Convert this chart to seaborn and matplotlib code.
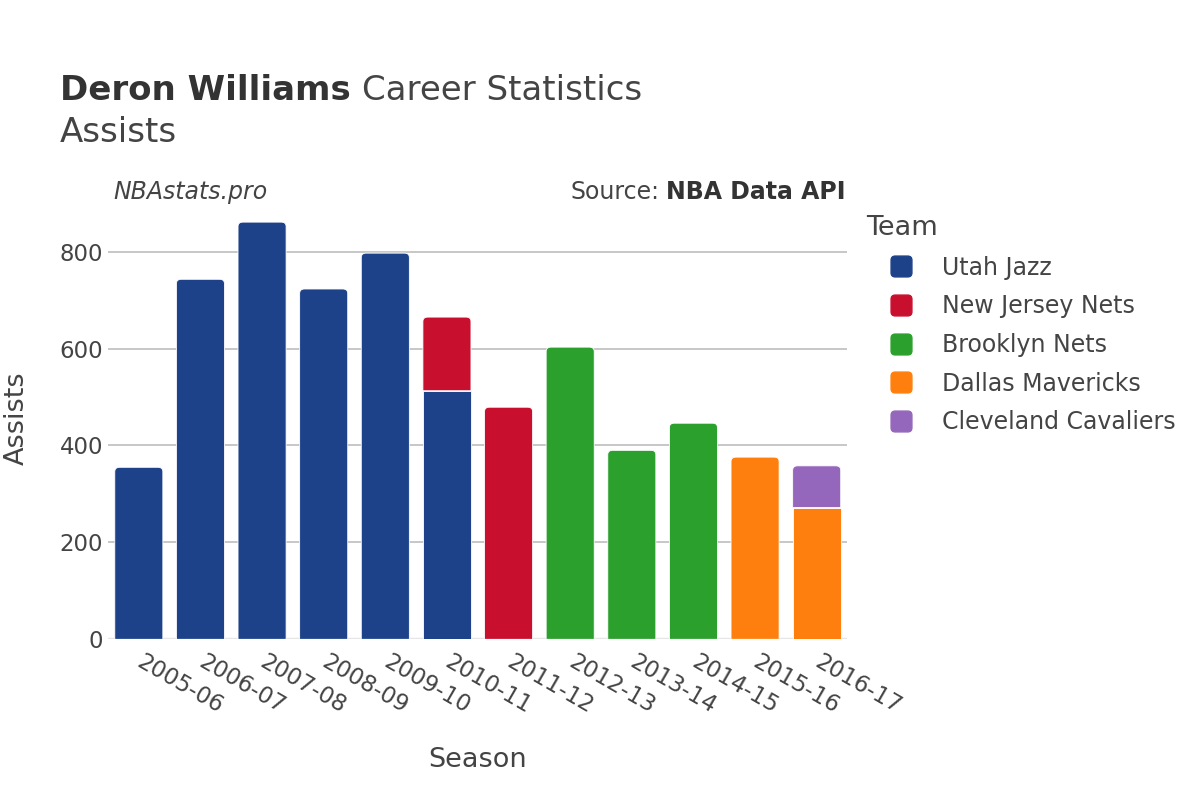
"""
Deron Williams Career Statistics - Assists

シーズン別アシスト数（所属チーム別の積み上げ棒グラフ）
"""

import matplotlib
matplotlib.use('Agg')  # GUIなしで動作させる
import matplotlib.pyplot as plt
import seaborn as sns
import pandas as pd
from matplotlib.path import Path
from matplotlib.patches import PathPatch, FancyBboxPatch
from matplotlib.lines import Line2D

# ---- データ ----
seasons = ['2005-06', '2006-07', '2007-08', '2008-09', '2009-10', '2010-11',
           '2011-12', '2012-13', '2013-14', '2014-15', '2015-16', '2016-17']

teams = ['Utah Jazz', 'New Jersey Nets', 'Brooklyn Nets',
         'Dallas Mavericks', 'Cleveland Cavaliers']
team_colors = ['#1d428a', '#c8102e', '#2ca02c', '#ff7f0e', '#9467bd']

utah_seasons = ['2005-06', '2006-07', '2007-08', '2008-09', '2009-10', '2010-11']
utah_assists = [355, 743, 861, 723, 797, 513]

nj_seasons = ['2010-11', '2011-12']
nj_assists = [152, 479]

bkn_seasons = ['2012-13', '2013-14', '2014-15']
bkn_assists = [603, 390, 446]

dal_seasons = ['2015-16', '2016-17']
dal_assists = [376, 272]

cle_seasons = ['2016-17']
cle_assists = [86]

team_data = {
    'Utah Jazz': (utah_seasons, utah_assists),
    'New Jersey Nets': (nj_seasons, nj_assists),
    'Brooklyn Nets': (bkn_seasons, bkn_assists),
    'Dallas Mavericks': (dal_seasons, dal_assists),
    'Cleveland Cavaliers': (cle_seasons, cle_assists),
}

# ロングフォーマットに変換し、積み上げ用のbottomを計算
rows = []
for t_idx, team in enumerate(teams):
    s_list, a_list = team_data[team]
    for s, a in zip(s_list, a_list):
        rows.append({'season': s, 'team': team, 'assists': a,
                     'pos': seasons.index(s), 'stack': t_idx})
df = pd.DataFrame(rows).sort_values(['pos', 'stack']).reset_index(drop=True)
df['bottom'] = df.groupby('season')['assists'].cumsum() - df['assists']
df['is_top'] = df.groupby('season')['stack'].transform('max') == df['stack']

TEXT = '#444444'
GRID = '#bdbdbd'

sns.set_style('white')
plt.rcParams['font.family'] = ['DejaVu Sans']
plt.rcParams['text.color'] = TEXT
plt.rcParams['axes.labelcolor'] = TEXT
plt.rcParams['xtick.color'] = TEXT
plt.rcParams['ytick.color'] = TEXT

W, H = 1200, 800
fig = plt.figure(figsize=(12, 8), dpi=100)
ax = fig.add_axes([108 / W, 1 - 639.3 / H, 739.5 / W, 438.5 / H])


def round_top(ax, rect, rx=0.08, ry=9.0):
    """棒の上端の角を丸める"""
    x0, y0 = rect.get_x(), rect.get_y()
    x1, y1 = x0 + rect.get_width(), y0 + rect.get_height()
    verts = [(x0, y0), (x0, y1 - ry), (x0, y1), (x0 + rx, y1),
             (x1 - rx, y1), (x1, y1), (x1, y1 - ry), (x1, y0), (x0, y0)]
    codes = [Path.MOVETO, Path.LINETO, Path.CURVE3, Path.CURVE3,
             Path.LINETO, Path.CURVE3, Path.CURVE3, Path.LINETO, Path.CLOSEPOLY]
    patch = PathPatch(Path(verts, codes), facecolor=rect.get_facecolor(),
                      edgecolor=rect.get_edgecolor(), linewidth=rect.get_linewidth(),
                      zorder=rect.get_zorder())
    rect.remove()
    ax.add_patch(patch)


for team, color in zip(teams, team_colors):
    sub = df[df['team'] == team].sort_values('pos')
    n0 = len(ax.patches)
    sns.barplot(data=sub, x='season', y='assists', order=seasons,
                color=color, saturation=1, width=0.78, errorbar=None,
                bottom=sub['bottom'].values, edgecolor='white',
                linewidth=0.6, ax=ax, zorder=3)
    new_patches = list(ax.patches[n0:])
    for rect, top in zip(new_patches, sub['is_top'].values):
        if top:
            round_top(ax, rect)

# 軸の設定
ax.set_xlim(-0.5, len(seasons) - 0.5)
ax.set_ylim(0, 905)
ax.set_yticks([0, 200, 400, 600, 800])
ax.grid(axis='y', color=GRID, linewidth=1.2, zorder=0)
ax.grid(axis='x', visible=False)
ax.axhline(0, color='#e6e6e6', linewidth=2.5, zorder=2)
for sp in ax.spines.values():
    sp.set_visible(False)

ax.tick_params(axis='y', labelsize=16.5, length=3, width=1.2, color=GRID, pad=0.5)
ax.tick_params(axis='x', labelsize=16.5, length=0, pad=15)
for lab in ax.get_xticklabels():
    lab.set_rotation(-30)
    lab.set_ha('left')
    lab.set_va('center')
    lab.set_rotation_mode('anchor')

ax.set_xlabel('Season', fontsize=19.5, va='center', ha='center')
ax.xaxis.set_label_coords((478 - 108) / 739.5, (639.3 - 760) / 438.5)
ax.set_ylabel('Assists', fontsize=19.5, va='center', ha='center')
ax.yaxis.set_label_coords((17 - 108) / 739.5, (639.3 - 418) / 438.5)

# タイトル
t1 = fig.text(60 / W, 1 - 100 / H, 'Deron Williams', fontsize=24.5,
              fontweight='bold', color='#333333', va='baseline')
fig.canvas.draw()
bb = t1.get_window_extent()
fig.text((bb.x1 + 11) / W, 1 - 100 / H, 'Career Statistics', fontsize=24.5,
         color=TEXT, va='baseline')
fig.text(60 / W, 1 - 142 / H, 'Assists', fontsize=24.5, color=TEXT, va='baseline')

# 注記
fig.text(113 / W, 1 - 199 / H, 'NBAstats.pro', fontsize=17, style='italic',
         color=TEXT, va='baseline')
t_src = fig.text(845 / W, 1 - 199 / H, 'NBA Data API', fontsize=17,
                 fontweight='bold', color='#333333', va='baseline', ha='right')
fig.canvas.draw()
bb = t_src.get_window_extent()
fig.text((bb.x0 - 6) / W, 1 - 199 / H, 'Source:', fontsize=17, color=TEXT,
         va='baseline', ha='right')

# 凡例（角丸の四角マーカー）
box = FancyBboxPatch((-1, -1), 2, 2, boxstyle='round,pad=0,rounding_size=0.4')
marker_path = box.get_path()
handles = [Line2D([], [], linestyle='none', marker=marker_path, markersize=15,
                  markerfacecolor=c, markeredgecolor=c) for c in team_colors]
leg = fig.legend(handles, teams, title='Team', loc='upper left',
                 bbox_to_anchor=(866 / W, 1 - 215 / H), frameon=False,
                 fontsize=17, title_fontsize=19.5, borderpad=0, borderaxespad=0,
                 handlelength=3.0, handletextpad=0.2, labelspacing=0.62,
                 alignment='left')
for txt in leg.get_texts():
    txt.set_color(TEXT)
leg.get_title().set_color(TEXT)

fig.savefig('out.png', dpi=100)
